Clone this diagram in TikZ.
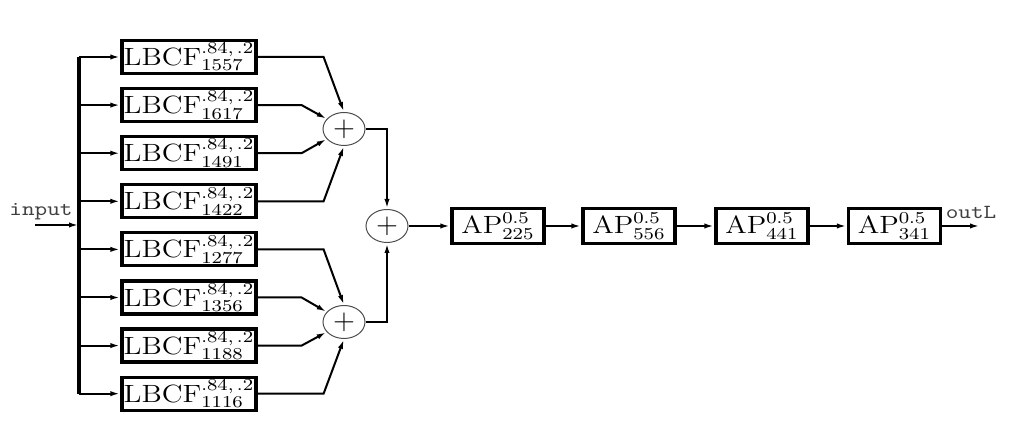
\documentclass[tikz,border=0pt]{standalone}
\usepackage{graphicx}
\usetikzlibrary{shapes.geometric,arrows.meta}
\newcommand{\lbcf}[1]{\scalebox{1.22}[1.04]{$\mathrm{LBCF}^{.84,\,.2}_{#1}$}}
\newcommand{\apf}[1]{\scalebox{1.22}[1.04]{$\mathrm{AP}^{0.5}_{#1}$}}
\newcommand{\sig}[1]{\scalebox{1.2}[1]{\ttfamily #1}}

\begin{document}
\begin{tikzpicture}[x=0.5pt,y=-0.5pt,
	box/.style={draw,line width=1.6pt,inner sep=0pt,font=\large},
	lbcfbox/.style={box,minimum width=67pt,minimum height=16.5pt},
	apbox/.style={box,minimum width=46pt,minimum height=17.5pt},
	adder/.style={ellipse,draw=black!70,line width=0.5pt,minimum width=21pt,minimum height=16.5pt,inner sep=0pt,font=\Large},
	conn/.style={line width=1pt,-{Latex[length=5pt,width=2.6pt]}}]
		%%%%% START %%%%%
		\useasboundingbox (0,0) rectangle (1009,431);
		
		\coordinate (in) at (35,225);
		\coordinate (bus) at (79,225);
		\node[text=black!75] (intext) at (41,212) {\sig{input}};
		\draw[conn] (in) -- (bus);
		
		% comb filters
		\foreach \i/\d in {1/1557,2/1617,3/1491,4/1422,5/1277,6/1356,7/1188,8/1116}{
			\node[lbcfbox] (lb\i) at (189,{57+48.1*(\i-1)}) {\lbcf{\d}};
			\draw[conn] (lb\i.west -| bus) -- (lb\i.west);
		}
		\draw[line width=2pt] (lb1.west -| bus) -- (lb8.west -| bus);
		
		% adders
		\node[adder] (sum1) at (344,129) {$+$};
		\node[adder] (sum2) at (387,226) {$+$};
		\node[adder] (sum3) at (344,322) {$+$};
		
		\draw[conn] (lb1.east) -- ++(66,0) -- (sum1.north);
		\draw[conn] (lb2.east) -- ++(44,0) -- (sum1.150);
		\draw[conn] (lb3.east) -- ++(44,0) -- (sum1.210);
		\draw[conn] (lb4.east) -- ++(66,0) -- (sum1.south);
		\draw[conn] (lb5.east) -- ++(66,0) -- (sum3.north);
		\draw[conn] (lb6.east) -- ++(44,0) -- (sum3.150);
		\draw[conn] (lb7.east) -- ++(44,0) -- (sum3.210);
		\draw[conn] (lb8.east) -- ++(66,0) -- (sum3.south);
		
		\draw[conn] (sum1.east) -| (sum2.north);
		\draw[conn] (sum3.east) -| (sum2.south);
		
		% allpass chain
		\node[apbox] (ap1) at (498,226) {\apf{225}};
		\node[apbox] (ap2) at (629,226) {\apf{556}};
		\node[apbox] (ap3) at (762,226) {\apf{441}};
		\node[apbox] (ap4) at (894.5,226) {\apf{341}};
		\coordinate (out) at (980,226);
		\node[text=black!75] (outtext) at (971,212) {\sig{outL}};
		
		\draw[conn] (sum2) -- (ap1);
		\draw[conn] (ap1) -- (ap2);
		\draw[conn] (ap2) -- (ap3);
		\draw[conn] (ap3) -- (ap4);
		\draw[conn] (ap4) -- (out);
		%%%%% END %%%%%
\end{tikzpicture}
\end{document}
